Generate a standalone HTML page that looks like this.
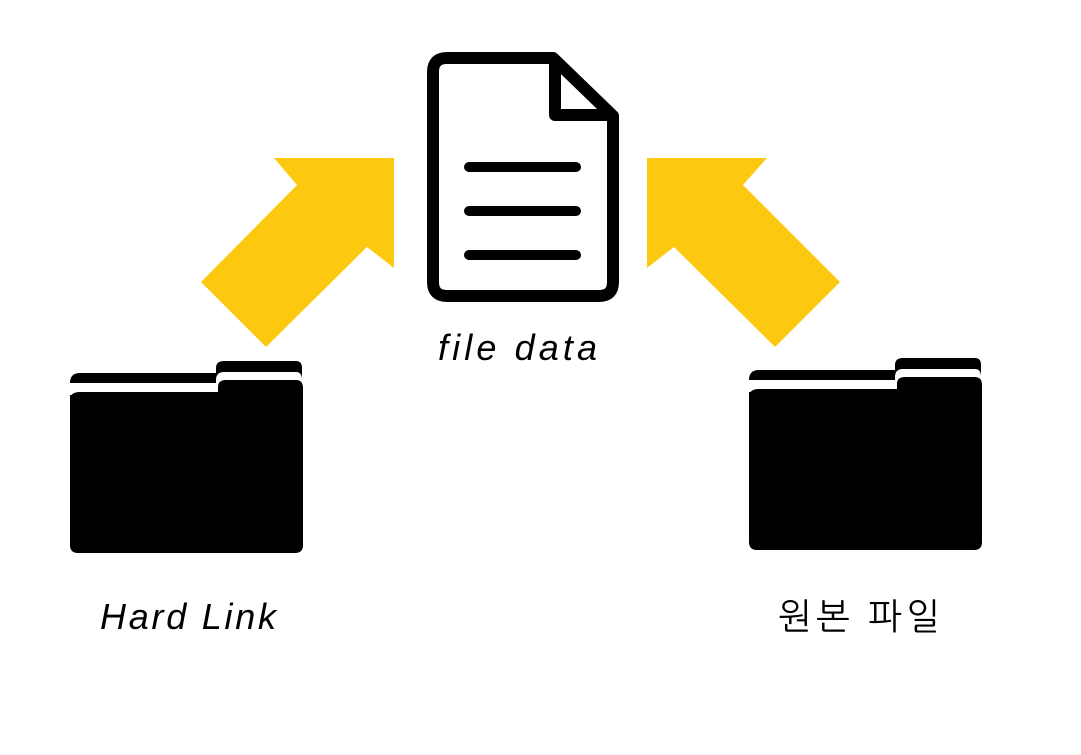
<!DOCTYPE html>
<html><head><meta charset="utf-8"><style>
html,body{margin:0;padding:0;background:#fff;width:1081px;height:755px;overflow:hidden}
</style></head><body>
<svg width="1081" height="755" viewBox="0 0 1081 755" xmlns="http://www.w3.org/2000/svg">
<rect width="1081" height="755" fill="#fff"/>
<polygon points="274,158 394,158 394,268 367,247 266,347 201,282 297,185" fill="#fdc910"/>
<polygon points="767,158 647,158 647,268 674,247 775,347 840,282 743,185" fill="#fdc910"/>
<!-- document -->
<path d="M447,58 H553 L613,116 V282 Q613,296 599,296 H447 Q433,296 433,282 V72 Q433,58 447,58 Z" fill="none" stroke="#000" stroke-width="12" stroke-linejoin="round"/>
<path d="M555,58 V115 H613" fill="none" stroke="#000" stroke-width="12" stroke-linejoin="round"/>
<g stroke="#000" stroke-width="10" stroke-linecap="round">
<line x1="469" y1="167" x2="576" y2="167"/>
<line x1="469" y1="211" x2="576" y2="211"/>
<line x1="469" y1="255" x2="576" y2="255"/>
</g>
<!-- folders -->
<g id="f1">
<path d="M80,373 H216 V368 Q216,361 224,361 H296 Q302,361 302,368 V400 H70 V383 Q70,373 80,373 Z" fill="#000"/>
<path d="M70,383 H216 V380 Q216,372 224,372 H296 Q302,372 302,380 V395 H70 Z" fill="#fff"/>
<path d="M80,392 H218 V387 Q218,380 226,380 H296 Q303,380 303,388 V545 Q303,553 295,553 H78 Q70,553 70,545 V400 Q70,392 80,392 Z" fill="#000"/>
</g>
<use href="#f1" transform="translate(679,-3)"/>
<g font-family="'Liberation Sans','NanumGothic',sans-serif" font-style="italic" font-size="36" fill="#000">
<text x="438" y="360" textLength="159" lengthAdjust="spacing">file data</text>
<text x="100" y="629" textLength="176" lengthAdjust="spacing">Hard Link</text>
<text x="778" y="629" font-style="normal" textLength="162" lengthAdjust="spacing">원본 파일</text>
</g>
</svg>
</body></html>
